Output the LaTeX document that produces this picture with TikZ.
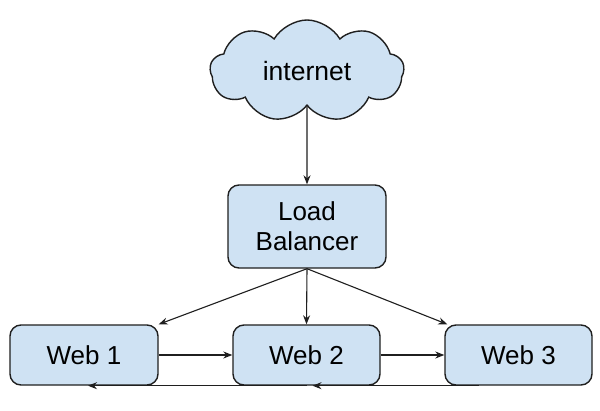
\documentclass[tikz,border=0pt]{standalone}
\usepackage{fontspec}
\setmainfont{Liberation Sans}
\usetikzlibrary{shapes.symbols,arrows.meta}
\definecolor{boxfill}{HTML}{CFE2F3}
\definecolor{boxline}{HTML}{1F1F1F}
\begin{document}
\begin{tikzpicture}[x=1pt,y=-1pt,
  srv/.style={draw=boxline,fill=boxfill,line width=1.4pt,rounded corners=11pt,
    font=\fontsize{26}{30}\selectfont,align=center,inner sep=0pt},
  conn/.style={draw=boxline,line width=1.1pt,-{Stealth[length=9pt,width=7pt]}}]
\useasboundingbox (0,0) rectangle (600,410);
\node[cloud,cloud puffs=9,cloud puff arc=120,aspect=2.1,draw=boxline,fill=boxfill,
  line width=1.4pt,minimum width=194pt,minimum height=102pt,inner sep=0pt,
  font=\fontsize{26.5}{30}\selectfont] (inet) at (307,71) {internet};
\node[srv,minimum width=158pt,minimum height=83pt] (lb) at (307,226.5) {Load\\Balancer};
\node[srv,minimum width=148pt,minimum height=60pt] (w1) at (84,355) {Web 1};
\node[srv,minimum width=147pt,minimum height=60pt] (w2) at (306.5,355) {Web 2};
\node[srv,minimum width=147pt,minimum height=60pt] (w3) at (518.5,355) {Web 3};
\draw[conn] (inet.south) -- (lb.north);
\draw[conn] (lb.south) -- (w1.north east);
\draw[conn] (lb.south) -- (w2.north);
\draw[conn] (lb.south) -- ([xshift=3pt]w3.north west);
\draw[conn] (w1.east) -- (w2.west);
\draw[conn] (w2.east) -- (w3.west);
\draw[conn] ([xshift=-40pt]w3.south) -- ([xshift=6pt]w2.south);
\draw[conn] (w2.south) -- ([xshift=4pt]w1.south);
\end{tikzpicture}
\end{document}
